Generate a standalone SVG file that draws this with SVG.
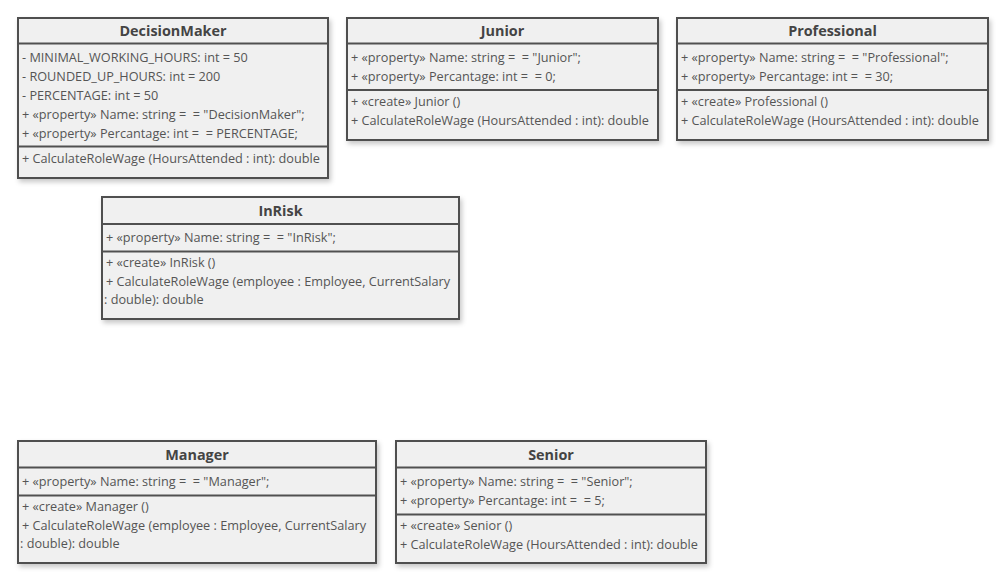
<svg xmlns="http://www.w3.org/2000/svg" width="1008" height="584" viewBox="0 0 1008 584">
<defs>
<filter id="sh" x="-5%" y="-5%" width="112%" height="115%">
<feDropShadow dx="2" dy="3" stdDeviation="2.5" flood-color="#000" flood-opacity="0.22"/>
</filter>
</defs>
<style>
.box{fill:#f0f0f0;stroke:#505050;stroke-width:2;filter:url(#sh)}
.div{stroke:#505050;stroke-width:2;fill:none}
.t{font-family:"Open Sans","Noto Sans",sans-serif;font-size:14.4px;font-weight:bold;fill:#444;text-anchor:middle}
.m{font-family:"Open Sans","Noto Sans",sans-serif;font-size:12.7px;fill:#555;white-space:pre}
</style>
<rect width="1008" height="584" fill="#fff"/>
<g id="connectors"/>
<g id="DecisionMaker">
<rect class="box" x="18" y="18" width="310" height="160"/>
<line class="div" x1="18" y1="43.5" x2="328" y2="43.5"/>
<line class="div" x1="18" y1="146.5" x2="328" y2="146.5"/>
<text class="t" x="173" y="35.5">DecisionMaker</text>
<text class="m" x="22" y="61.5">- MINIMAL_WORKING_HOURS: int = 50</text>
<text class="m" x="22" y="80.5">- ROUNDED_UP_HOURS: int = 200</text>
<text class="m" x="22" y="99.5">- PERCENTAGE: int = 50</text>
<text class="m" x="22" y="118.5" xml:space="preserve">+ «property» Name: string =  = "DecisionMaker";</text>
<text class="m" x="22" y="137.5" xml:space="preserve">+ «property» Percantage: int =  = PERCENTAGE;</text>
<text class="m" x="22" y="163">+ CalculateRoleWage (HoursAttended : int): double</text>
</g>
<g id="Junior">
<rect class="box" x="347" y="18" width="311" height="122"/>
<line class="div" x1="347" y1="43.5" x2="658" y2="43.5"/>
<line class="div" x1="347" y1="90" x2="658" y2="90"/>
<text class="t" x="502.5" y="35.5">Junior</text>
<text class="m" x="351" y="61.5" xml:space="preserve">+ «property» Name: string =  = "Junior";</text>
<text class="m" x="351" y="80.5" xml:space="preserve">+ «property» Percantage: int =  = 0;</text>
<text class="m" x="351" y="106">+ «create» Junior ()</text>
<text class="m" x="351" y="125">+ CalculateRoleWage (HoursAttended : int): double</text>
</g>
<g id="Professional">
<rect class="box" x="677" y="18" width="311" height="122"/>
<line class="div" x1="677" y1="43.5" x2="988" y2="43.5"/>
<line class="div" x1="677" y1="90" x2="988" y2="90"/>
<text class="t" x="832.5" y="35.5">Professional</text>
<text class="m" x="681" y="61.5" xml:space="preserve">+ «property» Name: string =  = "Professional";</text>
<text class="m" x="681" y="80.5" xml:space="preserve">+ «property» Percantage: int =  = 30;</text>
<text class="m" x="681" y="106">+ «create» Professional ()</text>
<text class="m" x="681" y="125">+ CalculateRoleWage (HoursAttended : int): double</text>
</g>
<g id="InRisk">
<rect class="box" x="102" y="197" width="357" height="122"/>
<line class="div" x1="102" y1="224" x2="459" y2="224"/>
<line class="div" x1="102" y1="251.5" x2="459" y2="251.5"/>
<text class="t" x="280.5" y="216">InRisk</text>
<text class="m" x="106" y="242" xml:space="preserve">+ «property» Name: string =  = "InRisk";</text>
<text class="m" x="106" y="266.5">+ «create» InRisk ()</text>
<text class="m" x="106" y="285.5">+ CalculateRoleWage (employee : Employee, CurrentSalary</text>
<text class="m" x="104" y="303.5">: double): double</text>
</g>
<g id="Manager">
<rect class="box" x="18" y="441" width="358" height="122"/>
<line class="div" x1="18" y1="467.5" x2="376" y2="467.5"/>
<line class="div" x1="18" y1="495.5" x2="376" y2="495.5"/>
<text class="t" x="197" y="459.5">Manager</text>
<text class="m" x="22" y="485.5" xml:space="preserve">+ «property» Name: string =  = "Manager";</text>
<text class="m" x="22" y="510.5">+ «create» Manager ()</text>
<text class="m" x="22" y="529.5">+ CalculateRoleWage (employee : Employee, CurrentSalary</text>
<text class="m" x="20" y="547.5">: double): double</text>
</g>
<g id="Senior">
<rect class="box" x="396" y="441" width="310" height="122"/>
<line class="div" x1="396" y1="467.5" x2="706" y2="467.5"/>
<line class="div" x1="396" y1="514.5" x2="706" y2="514.5"/>
<text class="t" x="551" y="459.5">Senior</text>
<text class="m" x="400" y="485.5" xml:space="preserve">+ «property» Name: string =  = "Senior";</text>
<text class="m" x="400" y="504.5" xml:space="preserve">+ «property» Percantage: int =  = 5;</text>
<text class="m" x="400" y="529.5">+ «create» Senior ()</text>
<text class="m" x="400" y="548.5">+ CalculateRoleWage (HoursAttended : int): double</text>
</g>
</svg>
